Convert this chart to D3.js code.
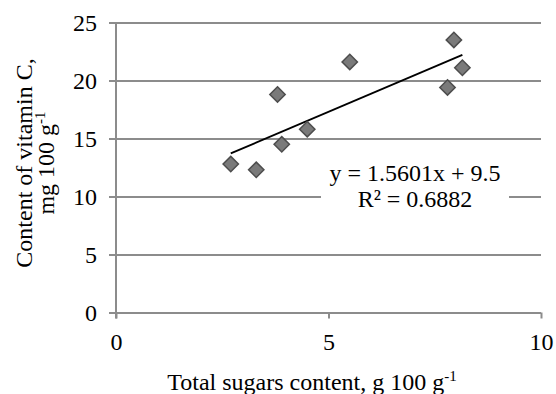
<!DOCTYPE html>
<html>
<head>
<meta charset="utf-8">
<script src="https://cdn.jsdelivr.net/npm/d3@7"></script>
<style>
  body { margin: 0; background: #fff; }
  svg text { font-family: "Liberation Serif", "Times New Roman", serif; fill: #000; }
</style>
</head>
<body>
<svg id="chart" width="556" height="394"></svg>
<script>
// data
let sugars = [2.7, 3.3, 3.8, 3.9, 4.5, 5.5, 7.8, 7.95, 8.15]
let vitC = [12.8, 12.3, 18.8, 14.5, 15.8, 21.6, 19.4, 23.5, 21.1]
let xTicks = [0, 5, 10]
let yTicks = [0, 5, 10, 15, 20, 25]
let slope = 1.5601, intercept = 9.5
let eqText = "y = 1.5601x + 9.5"
let r2Text = "R² = 0.6882"

let gridColor = "#8c8c8c"
let serif = "'Liberation Serif', 'Times New Roman', serif"
let svg = d3.select("#chart")

let x = d3.scaleLinear().domain([0, 10]).range([116, 541])
let y = d3.scaleLinear().domain([0, 25]).range([312.5, 22.5])

// horizontal gridlines (y=0 one doubles as the x axis)
let yAxis = d3.axisLeft(y).tickValues(yTicks).tickFormat(d => d)
let gy = svg.append("g").attr("transform", "translate(" + x(0) + ",0)").call(yAxis)
  .attr("font-family", null).attr("font-size", null)
gy.select(".domain").remove()
gy.selectAll(".tick line").attr("stroke", gridColor).attr("stroke-width", 2).attr("x2", x.range()[1] - x.range()[0]).attr("x1", -7)
gy.selectAll(".tick text").attr("x", -19).attr("dy", "0.32em").attr("fill", "#000")
  .style("font-family", serif).style("font-size", "24px")

// left axis line
svg.append("line")
  .attr("x1", x(0)).attr("x2", x(0))
  .attr("y1", y(25)).attr("y2", y(0) + 6)
  .attr("stroke", gridColor).attr("stroke-width", 2)

// x ticks
let xAxis = d3.axisBottom(x).tickValues(xTicks).tickSize(6).tickFormat(d => d)
let gx = svg.append("g").attr("transform", "translate(0," + y(0) + ")").call(xAxis)
  .attr("font-family", null).attr("font-size", null)
gx.select(".domain").remove()
gx.selectAll(".tick line").attr("stroke", gridColor).attr("stroke-width", 2)
gx.selectAll(".tick text").attr("y", 37).attr("dy", 0).attr("fill", "#000")
  .style("font-family", serif).style("font-size", "24px")

// trend line over the data range
let xMin = d3.min(sugars), xMax = d3.max(sugars)
svg.append("line")
  .attr("x1", x(xMin)).attr("y1", y(slope * xMin + intercept))
  .attr("x2", x(xMax)).attr("y2", y(slope * xMax + intercept))
  .attr("stroke", "#000").attr("stroke-width", 1.8)

// diamond markers
let pts = sugars.map((s, i) => [s, vitC[i]])
svg.selectAll("path.pt").data(pts).enter().append("path")
  .attr("class", "pt")
  .attr("d", d3.symbol().type(d3.symbolDiamond2).size(150))
  .attr("transform", d => "translate(" + x(d[0]) + "," + y(d[1]) + ")")
  .attr("fill", "#7a7a7a").attr("stroke", "#4d4d4d").attr("stroke-width", 1.5)

// equation label with white background
svg.append("rect")
  .attr("x", 321).attr("y", 160).attr("width", 188).attr("height", 52)
  .attr("fill", "#fff")
svg.append("text").attr("x", 415).attr("y", 181).attr("text-anchor", "middle")
  .style("font-size", "24px").text(eqText)
svg.append("text").attr("x", 415).attr("y", 207).attr("text-anchor", "middle")
  .style("font-size", "24px").text(r2Text)

// axis titles
let xt = svg.append("text").attr("x", 312).attr("y", 390).attr("text-anchor", "middle").style("font-size", "24px")
xt.append("tspan").text("Total sugars content, g 100 g")
xt.append("tspan").attr("dy", -9).style("font-size", "15px").text("-1")

let yt = svg.append("text").attr("transform", "translate(32,163) rotate(-90)").attr("text-anchor", "middle").style("font-size", "24px")
yt.append("tspan").attr("x", 0).attr("y", 0).text("Content of vitamin C,")
let yt2 = svg.append("text").attr("transform", "translate(54,163) rotate(-90)").attr("text-anchor", "middle").style("font-size", "24px")
yt2.append("tspan").text("mg 100 g")
yt2.append("tspan").attr("dy", -9).style("font-size", "15px").text("-1")
</script>
</body>
</html>
